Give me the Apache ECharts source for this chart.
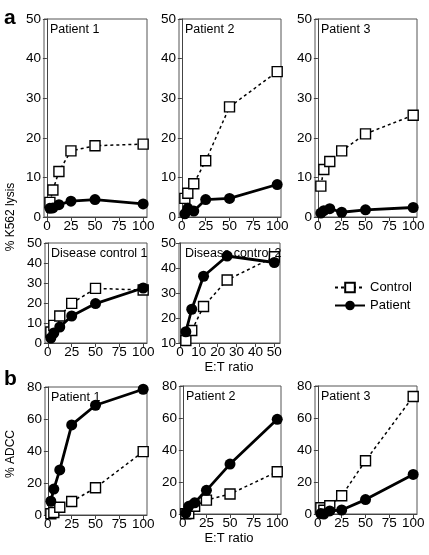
<!DOCTYPE html>
<html>
<head>
<meta charset="utf-8">
<script src="https://cdn.jsdelivr.net/npm/echarts@6/dist/echarts.min.js"></script>
<style>
html,body{margin:0;padding:0;background:#fff;}
#chart{width:429px;height:555px;}
</style>
</head>
<body>
<div id="chart"></div>
<script>
// ---- data ----
const etRatios = [3.125, 6.25, 12.5, 25, 50, 100];
const etRatiosDC2 = [3.125, 6.25, 12.5, 25, 50];
const xTicks100 = [0, 25, 50, 75, 100];
const xTicks50 = [0, 10, 20, 30, 40, 50];
const panelTitles = ['Patient 1', 'Patient 2', 'Patient 3', 'Disease control 1', 'Disease control 2', 'Patient 1', 'Patient 2', 'Patient 3'];

const aP1Control = [3.7, 6.8, 11.5, 16.7, 18.0, 18.4];
const aP1Patient = [2.2, 2.3, 3.1, 4.0, 4.4, 3.3];
const aP2Control = [4.7, 6.0, 8.4, 14.2, 27.8, 36.7];
const aP2Patient = [0.8, 2.2, 1.5, 4.4, 4.7, 8.2];
const aP3Control = [7.8, 12.0, 14.0, 16.7, 21.0, 25.7];
const aP3Patient = [1.0, 1.6, 2.1, 1.2, 1.8, 2.4];
const aDC1Control = [5.5, 8.8, 13.5, 19.8, 27.3, 26.5];
const aDC1Patient = [2.5, 5.0, 8.0, 13.5, 19.7, 27.5];
const aDC2Control = [11.0, 15.0, 24.6, 35.2, 44.5];
const aDC2Patient = [14.5, 23.5, 36.7, 44.8, 42.2];
const bP1Control = [0.8, 1.6, 4.8, 8.4, 17.0, 39.6];
const bP1Patient = [8.6, 16.2, 28.2, 56.3, 68.6, 78.6];
const bP2Control = [0.2, 0.3, 4.8, 8.7, 12.5, 26.4];
const bP2Patient = [0.6, 4.8, 7.0, 14.8, 31.2, 59.2];
const bP3Control = [3.9, 2.3, 5.2, 11.4, 33.3, 73.4];
const bP3Patient = [0.3, 0.0, 1.9, 2.5, 9.0, 24.7];

// ---- layout ----
const FONT = '"Liberation Sans", Arial, Helvetica, sans-serif';
const TICK_FS = 13.5;
const panels = [
  {left: 44, top: 19, w: 103, h: 198, xs: etRatios, c: aP1Control, p: aP1Patient, xmin: -3, xmax: 104, xt: xTicks100, ymin: 0, ymax: 50, yi: 10},
  {left: 179, top: 19, w: 102, h: 198, xs: etRatios, c: aP2Control, p: aP2Patient, xmin: -3, xmax: 104, xt: xTicks100, ymin: 0, ymax: 50, yi: 10},
  {left: 315, top: 19, w: 102, h: 198, xs: etRatios, c: aP3Control, p: aP3Patient, xmin: -3, xmax: 104, xt: xTicks100, ymin: 0, ymax: 50, yi: 10},
  {left: 45, top: 243, w: 102, h: 100, xs: etRatios, c: aDC1Control, p: aDC1Patient, xmin: -3, xmax: 104, xt: xTicks100, ymin: 0, ymax: 50, yi: 10},
  {left: 179, top: 243, w: 101, h: 100, xs: etRatiosDC2, c: aDC2Control, p: aDC2Patient, xmin: -0.5, xmax: 53, xt: xTicks50, ymin: 10, ymax: 50, yi: 10},
  {left: 45, top: 387, w: 102, h: 128, xs: etRatios, c: bP1Control, p: bP1Patient, xmin: -3, xmax: 104, xt: xTicks100, ymin: 0, ymax: 80, yi: 20},
  {left: 180, top: 386, w: 101, h: 128, xs: etRatios, c: bP2Control, p: bP2Patient, xmin: -3, xmax: 104, xt: xTicks100, ymin: 0, ymax: 80, yi: 20},
  {left: 315, top: 386, w: 102, h: 128, xs: etRatios, c: bP3Control, p: bP3Patient, xmin: -3, xmax: 104, xt: xTicks100, ymin: 0, ymax: 80, yi: 20}
];

const grid = [], xAxis = [], yAxis = [], series = [], texts = [];
panels.forEach((pn, i) => {
  grid.push({left: pn.left, top: pn.top, width: pn.w, height: pn.h, show: true, borderColor: '#555', borderWidth: 1, backgroundColor: 'transparent'});
  xAxis.push({
    type: 'value', gridIndex: i, min: pn.xmin, max: pn.xmax,
    splitLine: {show: false},
    axisLine: {show: true, onZero: false, lineStyle: {color: '#444', width: 1}},
    axisTick: {show: true, inside: false, length: 4, lineStyle: {color: '#444'}, customValues: pn.xt},
    axisLabel: {color: '#000', fontSize: TICK_FS, fontFamily: FONT, margin: 2, customValues: pn.xt, showMinLabel: true, showMaxLabel: true}
  });
  yAxis.push({
    type: 'value', gridIndex: i, min: pn.ymin, max: pn.ymax, interval: pn.yi,
    splitLine: {show: false},
    axisLine: {show: true, lineStyle: {color: '#444', width: 1}},
    axisTick: {show: true, inside: false, length: 4, lineStyle: {color: '#444'}},
    axisLabel: {color: '#000', fontSize: TICK_FS, fontFamily: FONT, margin: 3}
  });
  series.push({
    name: 'Control', type: 'line', xAxisIndex: i, yAxisIndex: i, z: 3,
    data: pn.xs.map((x, k) => [x, pn.c[k]]),
    symbol: 'rect', symbolSize: 10, showAllSymbol: true, clip: false,
    lineStyle: {color: '#000', width: 1.5, type: [3, 3]},
    itemStyle: {color: '#fff', borderColor: '#000', borderWidth: 1.4},
    emphasis: {disabled: true}, animation: false
  });
  series.push({
    name: 'Patient', type: 'line', xAxisIndex: i, yAxisIndex: i, z: 4,
    data: pn.xs.map((x, k) => [x, pn.p[k]]),
    symbol: 'circle', symbolSize: 11, showAllSymbol: true, clip: false,
    lineStyle: {color: '#000', width: 2.8},
    itemStyle: {color: '#000', borderColor: '#000', borderWidth: 0},
    emphasis: {disabled: true}, animation: false
  });
  texts.push({type: 'text', left: pn.left + 6, top: pn.top + 4, z: 10,
    style: {text: panelTitles[i], font: '12.5px ' + FONT, fill: '#000'}});
});

texts.push({type: 'text', left: 4, top: 8, style: {text: 'a', font: 'bold 21px ' + FONT, fill: '#000'}});
texts.push({type: 'text', left: 4, top: 369, style: {text: 'b', font: 'bold 21px ' + FONT, fill: '#000'}});
texts.push({type: 'text', x: 11, y: 217, rotation: Math.PI / 2,
  style: {text: '% K562 lysis', font: '12px ' + FONT, fill: '#000', align: 'center', verticalAlign: 'middle'}});
texts.push({type: 'text', x: 11, y: 454, rotation: Math.PI / 2,
  style: {text: '% ADCC', font: '12px ' + FONT, fill: '#000', align: 'center', verticalAlign: 'middle'}});
texts.push({type: 'text', x: 229, y: 367, style: {text: 'E:T ratio', font: '13px ' + FONT, fill: '#000', align: 'center', verticalAlign: 'middle'}});
texts.push({type: 'text', x: 229, y: 538, style: {text: 'E:T ratio', font: '13px ' + FONT, fill: '#000', align: 'center', verticalAlign: 'middle'}});

const chart = echarts.init(document.getElementById('chart'), null, {renderer: 'canvas'});
chart.setOption({
  animation: false,
  backgroundColor: '#fff',
  grid, xAxis, yAxis, series,
  legend: {
    data: ['Control', 'Patient'], orient: 'vertical', left: 329, top: 276,
    itemWidth: 30, itemHeight: 12, itemGap: 5,
    textStyle: {color: '#000', fontSize: 13, fontFamily: FONT},
    selectedMode: false
  },
  graphic: texts
});
</script>
</body>
</html>
